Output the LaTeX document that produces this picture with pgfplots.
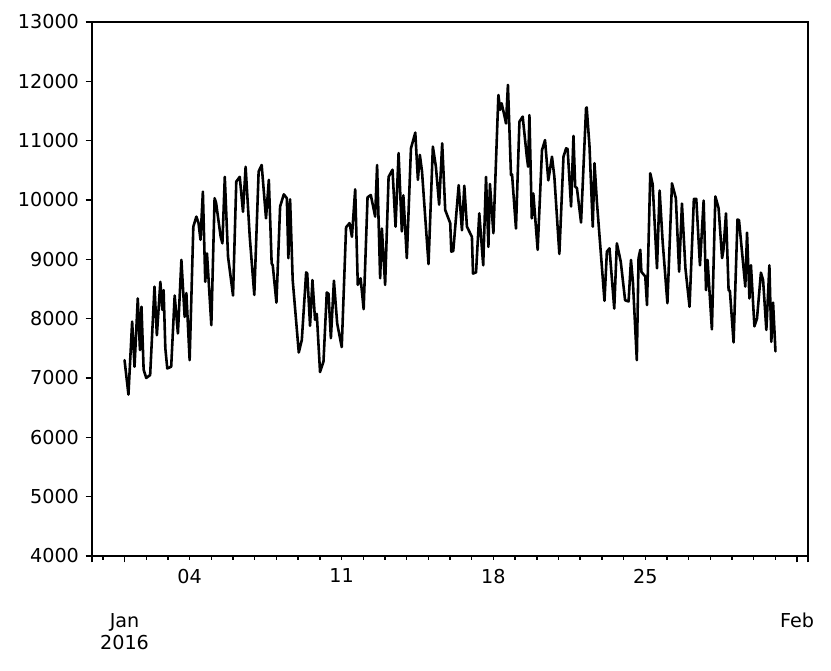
\documentclass[border=0pt]{standalone}
\usepackage{fontspec}
\setmainfont{DejaVu Sans}
\usepackage{pgfplots}
\pgfplotsset{compat=1.18}

\begin{document}
\fontsize{11.5}{13.4}\selectfont
\begin{tikzpicture}
\begin{axis}[
    scale only axis,
    width=429.6pt, height=320.4pt,
    xmin=-1.5, xmax=31.5,
    ymin=4000, ymax=13000,
    axis line style={line width=0.85pt},
    tick style={line width=0.85pt, black},
    tick align=outside,
    xtick pos=bottom, ytick pos=left,
    major tick length=3.8pt,
    minor tick length=2.2pt,
    xtick={-1.5,0,31,31.5},
    xticklabels={{},{Jan\\2016},{Feb},{}},
    xticklabel style={align=center, yshift=-26.5pt},
    minor xtick={-1,0,...,31},
    extra x ticks={3,10,17,24},
    extra x tick labels={04,11,18,25},
    extra x tick style={major tick length=2.2pt, xticklabel style={yshift=25pt}},
    ytick={4000,5000,...,13000},
    scaled y ticks=false,
    /pgf/number format/set thousands separator={},
    /pgf/number format/assume math mode=true,
    tick label style={font=\fontsize{11.5}{13.4}\selectfont},
]
\addplot[black, line width=1.55pt, line join=round, line cap=round] coordinates {
(0,7300) (0.18,6720) (0.35,7950) (0.46,7190) (0.61,8340) (0.71,7470) (0.78,8200) (0.88,7140)
(1.0,7000) (1.18,7050) (1.38,8540) (1.49,7720) (1.65,8620) (1.74,8150) (1.8,8480) (1.88,7500) (1.97,7160)
(2.15,7190) (2.31,8390) (2.46,7750) (2.62,8990) (2.77,8030) (2.85,8430)
(3.0,7300) (3.17,9550) (3.31,9720) (3.41,9610) (3.5,9330) (3.61,10140) (3.72,8620) (3.8,9100)
(4.0,7890) (4.15,10030) (4.22,9950) (4.43,9380) (4.51,9270) (4.62,10390) (4.77,9045)
(5.0,8390) (5.15,10310) (5.31,10390) (5.46,9800) (5.58,10560) (5.77,9380)
(5.98,8400) (6.18,10480) (6.32,10590) (6.52,9690) (6.65,10340) (6.78,8930) (6.83,8900)
(7.0,8270) (7.17,9890) (7.34,10095) (7.48,10030) (7.55,9020) (7.63,10010) (7.75,8650)
(8.03,7430) (8.17,7640) (8.37,8780) (8.42,8760) (8.55,7880) (8.66,8650) (8.78,7980) (8.86,8080)
(9.01,7100) (9.17,7280) (9.32,8440) (9.4,8420) (9.51,7670) (9.65,8640) (9.8,7920)
(10.01,7520) (10.21,9540) (10.37,9610) (10.48,9380) (10.63,10180) (10.75,8570) (10.88,8680)
(11.02,8160) (11.2,10045) (11.35,10084) (11.55,9720) (11.64,10590) (11.78,8680) (11.86,9520)
(12.01,8570) (12.17,10390) (12.35,10510) (12.49,9550) (12.63,10790) (12.78,9470) (12.85,10080)
(13.01,9020) (13.2,10870) (13.4,11135) (13.52,10340) (13.61,10760) (13.71,10480)
(14.01,8920) (14.21,10900) (14.35,10560) (14.5,9920) (14.64,10955) (14.78,9830)
(15.01,9610) (15.06,9130) (15.15,9140) (15.4,10250) (15.55,9490) (15.66,10240) (15.78,9550)
(16.01,9380) (16.06,8760) (16.2,8780) (16.35,9775) (16.53,8900) (16.66,10390) (16.77,9210) (16.84,10270)
(17.0,9440) (17.23,11770) (17.31,11520) (17.38,11630) (17.55,11350) (17.58,11290) (17.67,11940) (17.81,10420) (17.86,10430)
(18.04,9520) (18.2,11320) (18.35,11405) (18.54,10730) (18.6,10560) (18.66,11430) (18.77,9690) (18.84,10110)
(19.04,9160) (19.24,10840) (19.38,11010) (19.53,10330) (19.7,10730) (19.81,10390)
(20.04,9090) (20.23,10730) (20.35,10870) (20.42,10860) (20.58,9890) (20.69,11080) (20.77,10225) (20.85,10200)
(21.04,9620) (21.27,11545) (21.3,11560) (21.43,10900) (21.58,9550) (21.66,10620) (21.77,9970)
(22.12,8300) (22.23,9130) (22.35,9185) (22.57,8170) (22.69,9270) (22.87,8960)
(23.07,8310) (23.23,8290) (23.34,8990) (23.43,8620) (23.61,7300) (23.69,9020) (23.77,9160) (23.82,8790)
(24.0,8710) (24.08,8230) (24.23,10450) (24.34,10265) (24.54,8850) (24.66,10160) (24.8,9300)
(25.02,8260) (25.23,10280) (25.41,10030) (25.56,8790) (25.69,9940) (25.85,8850)
(26.04,8200) (26.24,10020) (26.35,10020) (26.52,8900) (26.69,9990) (26.8,8480) (26.87,8990)
(27.07,7820) (27.23,10060) (27.38,9860) (27.54,9020) (27.6,9150) (27.72,9775) (27.84,8480) (27.9,8470)
(28.07,7600) (28.25,9670) (28.32,9660) (28.61,8540) (28.69,9450) (28.8,8340) (28.87,8900)
(29.03,7870) (29.15,8005) (29.33,8775) (29.43,8650) (29.58,7810) (29.72,8900) (29.81,7610) (29.89,8270)
(30.0,7450)
};
\end{axis}
\path ([shift={(-55.2pt,-69pt)}]current axis.south west) rectangle ([shift={(13.8pt,13.2pt)}]current axis.north east);
\end{tikzpicture}
\end{document}
